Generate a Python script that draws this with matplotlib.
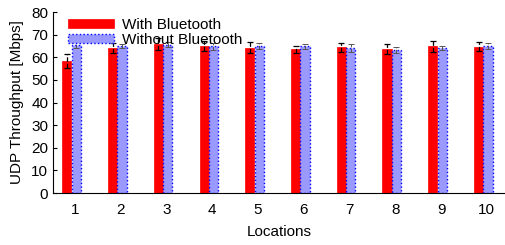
import numpy as np
from matplotlib import pyplot as plt

plt.rcParams['font.family'] = ['Liberation Sans', 'DejaVu Sans']

locations = np.arange(1, 11)
with_bt = [58.3, 64.3, 65.8, 65.0, 64.3, 63.6, 64.4, 63.7, 64.8, 64.6]
with_bt_err = [3.0, 2.2, 2.5, 2.2, 2.4, 1.6, 2.0, 2.2, 2.5, 2.0]
without_bt = [65.3, 64.9, 65.6, 64.8, 65.0, 64.8, 64.1, 63.3, 64.1, 65.0]
without_bt_err = [1.3, 1.0, 1.2, 1.5, 1.5, 1.2, 1.8, 1.2, 1.0, 1.5]

fig = plt.figure(figsize=(5.06, 2.45), dpi=100)
ax = fig.add_axes([0.105, 0.212, 0.895, 0.739])

w = 0.2
xr = locations - 0.18
xb = locations + 0.025

ax.bar(xr, with_bt, width=w, color='#ff0000', edgecolor='#ff0000',
       linewidth=0.5, label='With Bluetooth')
ax.bar(xb, without_bt, width=w, color='#9999ff', edgecolor='#0000ff',
       linewidth=1.0, linestyle=':', label='Without Bluetooth')

e1 = ax.errorbar(xr, with_bt, yerr=with_bt_err, fmt='none', ecolor='black',
                 elinewidth=0.9, capsize=2, capthick=0.9)
e1[2][0].set_linestyle('--')
e2 = ax.errorbar(xb, without_bt, yerr=without_bt_err, fmt='none', ecolor='#555555',
                 elinewidth=0.7, capsize=2, capthick=0.7)
e2[2][0].set_linestyle('--')

ax.set_xlim(0.52, 10.42)
ax.set_ylim(0, 80)
ax.set_yticks(range(0, 81, 10))
ax.set_xticks(locations)
ax.tick_params(axis='y', direction='in', length=3, labelsize=11)
ax.tick_params(axis='x', length=0, labelsize=11, pad=7)
ax.spines['top'].set_visible(False)
ax.spines['right'].set_visible(False)
ax.set_xlabel('Locations', fontsize=11, labelpad=6)
ax.set_ylabel('UDP Throughput [Mbps]', fontsize=11, labelpad=5)

ax.legend(loc='upper left', bbox_to_anchor=(0.02, 1.0), frameon=False,
          fontsize=11, handlelength=3.0, handleheight=0.55, labelspacing=0.05,
          handletextpad=0.5, borderaxespad=0)

plt.savefig('out.png', dpi=100)
